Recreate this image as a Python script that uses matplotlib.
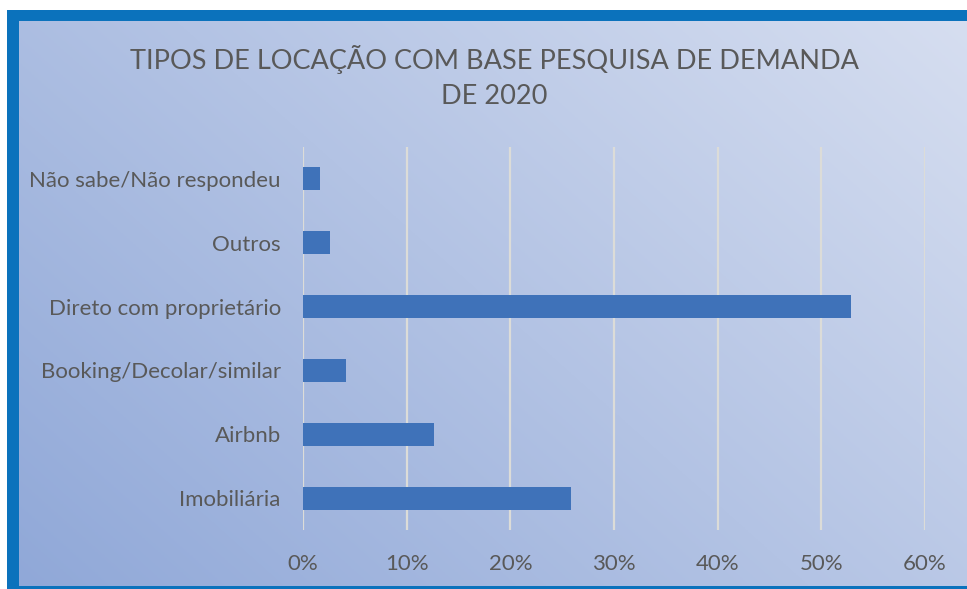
import numpy as np
import matplotlib
matplotlib.use("Agg")
import matplotlib.pyplot as plt
from matplotlib.patches import Rectangle
from matplotlib.ticker import PercentFormatter

categorias = ["Imobiliária", "Airbnb", "Booking/Decolar/similar",
              "Direto com proprietário", "Outros", "Não sabe/Não respondeu"]
valores = [25.9, 12.6, 4.1, 52.9, 2.6, 1.6]
ticks_x = [0, 10, 20, 30, 40, 50, 60]

plt.rcParams['font.family'] = ['Lato', 'DejaVu Sans']
COR_TEXTO = "#595959"

fig = plt.figure(figsize=(9.67, 5.89), dpi=100)
W, H = 967, 589

# moldura azul
fig.patches.append(Rectangle((7 / W, 0), 1, 1 - 10 / H, transform=fig.transFigure,
                             facecolor="#0B72BC", edgecolor="none", zorder=-5))

# fundo em degradê
bg = fig.add_axes([19 / W, 3 / H, 1 - 19 / W, 1 - 24 / H], zorder=1)
gx, gy = np.meshgrid(np.linspace(0, 1, 300), np.linspace(0, 1, 200))
t = np.clip(0.6 * gx + 0.4 * gy, 0, 1)
c0 = np.array([0x90, 0xA8, 0xD8]) / 255
c1 = np.array([0xD6, 0xDE, 0xF0]) / 255
img = c0[None, None, :] * (1 - t[..., None]) + c1[None, None, :] * t[..., None]
bg.imshow(img, origin="lower", aspect="auto", extent=[0, 1, 0, 1])
bg.set_axis_off()

ax = fig.add_axes([303 / W, 1 - 530 / H, (925 - 303) / W, (530 - 147) / H], zorder=2)
ax.patch.set_alpha(0)
y = np.arange(len(categorias))
ax.barh(y, valores, height=0.36, color="#3F72B9", zorder=3)
ax.set_xlim(0, 60)
ax.set_ylim(-0.5, len(categorias) - 0.5)
ax.set_xticks(ticks_x)
ax.xaxis.set_major_formatter(PercentFormatter(decimals=0))
ax.set_yticks(y)
ax.set_yticklabels(categorias)
ax.grid(axis="x", color="#DCDCD8", linewidth=1.6, zorder=1)
for s in ax.spines.values():
    s.set_visible(False)
ax.tick_params(axis="both", length=0, labelsize=16, colors=COR_TEXTO)
ax.tick_params(axis="x", pad=17)
ax.tick_params(axis="y", pad=16)

fig.text(494 / W, 1 - 77 / H, "TIPOS DE LOCAÇÃO COM BASE PESQUISA DE DEMANDA\nDE 2020",
         ha="center", va="center", fontsize=19.5, color=COR_TEXTO, linespacing=1.55)

fig.savefig("out.png", dpi=100)
